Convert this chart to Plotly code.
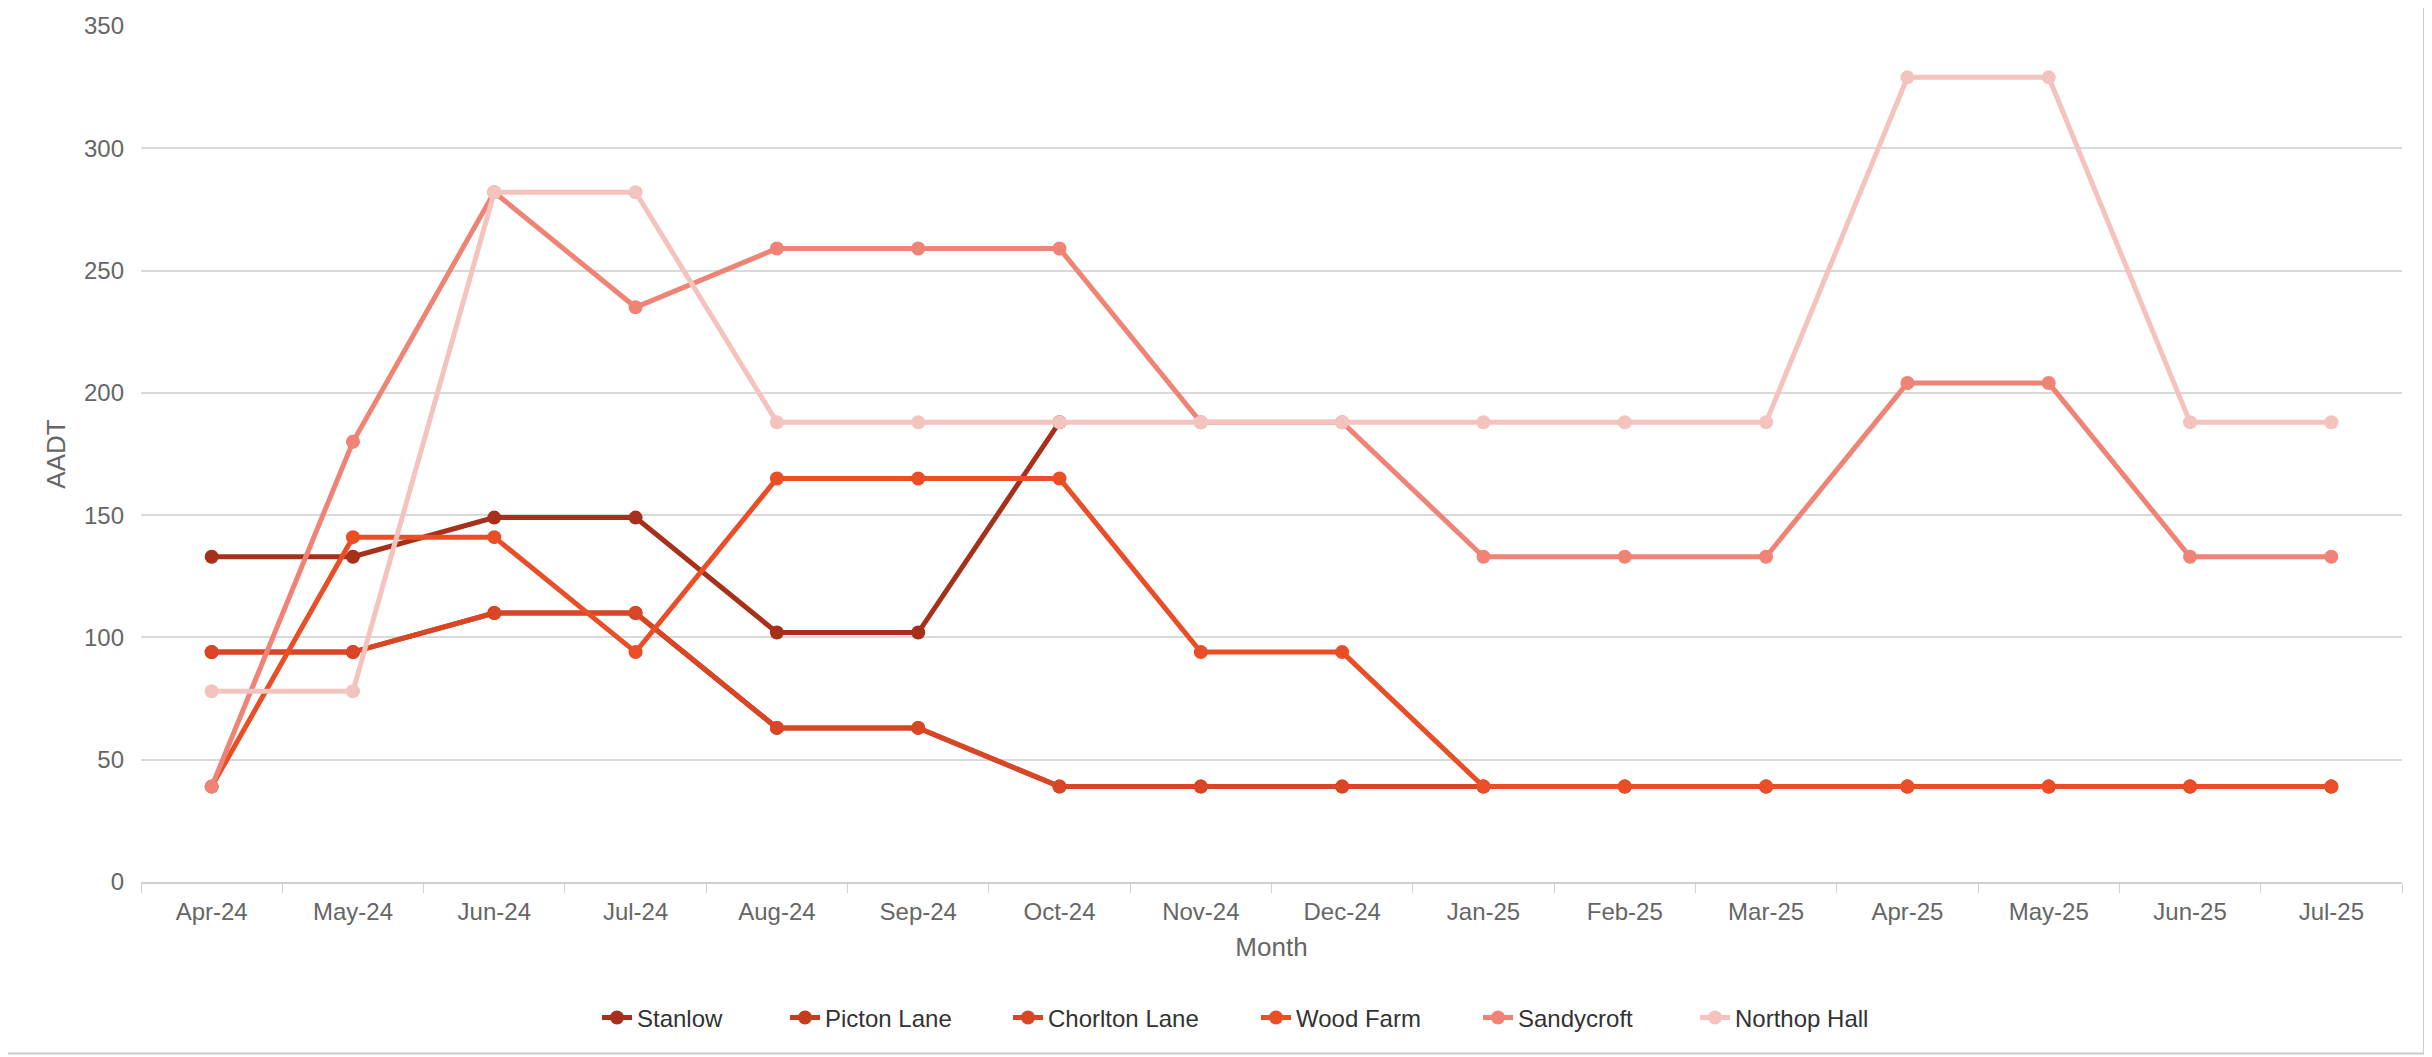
import plotly.graph_objects as go

months = ["Apr-24", "May-24", "Jun-24", "Jul-24", "Aug-24", "Sep-24", "Oct-24", "Nov-24",
          "Dec-24", "Jan-25", "Feb-25", "Mar-25", "Apr-25", "May-25", "Jun-25", "Jul-25"]

stanlow = [133, 133, 149, 149, 102, 102, 188, None, None, None, None, None, None, None, None, None]
picton_lane = [94, 94, 110, 110, 63, 63, 39, 39, 39, 39, 39, 39, 39, 39, 39, 39]
chorlton_lane = [94, 94, 110, 110, 63, 63, 39, 39, 39, 39, 39, 39, 39, 39, 39, 39]
wood_farm = [39, 141, 141, 94, 165, 165, 165, 94, 94, 39, 39, 39, 39, 39, 39, 39]
sandycroft = [39, 180, 282, 235, 259, 259, 259, 188, 188, 133, 133, 133, 204, 204, 133, 133]
northop_hall = [78, 78, 282, 282, 188, 188, 188, 188, 188, 188, 188, 188, 329, 329, 188, 188]

series_names = ["Stanlow", "Picton Lane", "Chorlton Lane", "Wood Farm", "Sandycroft", "Northop Hall"]
series_values = [stanlow, picton_lane, chorlton_lane, wood_farm, sandycroft, northop_hall]
colors = ["#a63019", "#c53d1e", "#d84626", "#e94e27", "#ef8375", "#f4c3be"]

# layout: horizontal position (px from page left) where each legend label text begins
legend_text_px = [638, 826, 1049, 1297, 1519, 1736]
PLOT_LEFT, PLOT_W = 141, 2261

fig = go.Figure()
legend_ids = ["legend"] + [f"legend{i}" for i in range(2, len(series_names) + 1)]
for name, vals, col, lid in zip(series_names, series_values, colors, legend_ids):
    fig.add_trace(go.Scatter(
        x=months, y=vals, name=name, mode="lines+markers",
        line=dict(color=col, width=5),
        marker=dict(color=col, size=14),
        connectgaps=False, legend=lid,
    ))

legend_layout = {}
for lid, tx in zip(legend_ids, legend_text_px):
    legend_layout[lid] = dict(
        orientation="h", x=(tx - 41 - PLOT_LEFT) / PLOT_W, xanchor="left",
        y=-0.1587, yanchor="middle", bgcolor="rgba(0,0,0,0)",
        font=dict(size=24, color="#333333"),
    )

fig.update_layout(
    width=2432, height=1057,
    paper_bgcolor="white", plot_bgcolor="white",
    margin=dict(l=133, r=38, t=18, b=183, autoexpand=False),
    font=dict(family="Liberation Sans, Arial, sans-serif", color="#666666"),
    showlegend=True,
    xaxis=dict(
        type="category", showgrid=False, showline=True, linecolor="#d0d0d0", linewidth=2,
        ticks="outside", tickson="boundaries", ticklen=9, tickcolor="#d0d0d0", tickwidth=1,
        tickfont=dict(size=24, color="#666666"), ticklabelstandoff=7, automargin=False,
        title=dict(text="Month", font=dict(size=26, color="#666666"), standoff=14),
        range=[-0.5, 15.5],
    ),
    yaxis=dict(
        range=[0, 350], dtick=50, showgrid=True, gridcolor="#d9d9d9", gridwidth=2,
        zeroline=False, showline=False, ticks="", automargin=False,
        tickfont=dict(size=24, color="#666666"), ticklabelstandoff=16,
        title=dict(text="AADT", font=dict(size=26, color="#666666"), standoff=10),
    ),
    **legend_layout,
)

fig.add_shape(type="rect", xref="paper", yref="paper",
              x0=-0.0593, x1=1.0097, y0=-0.2003, y1=1.04,
              line=dict(color="#cccccc", width=2), fillcolor="rgba(0,0,0,0)", layer="below")

fig.write_html("out.html")
